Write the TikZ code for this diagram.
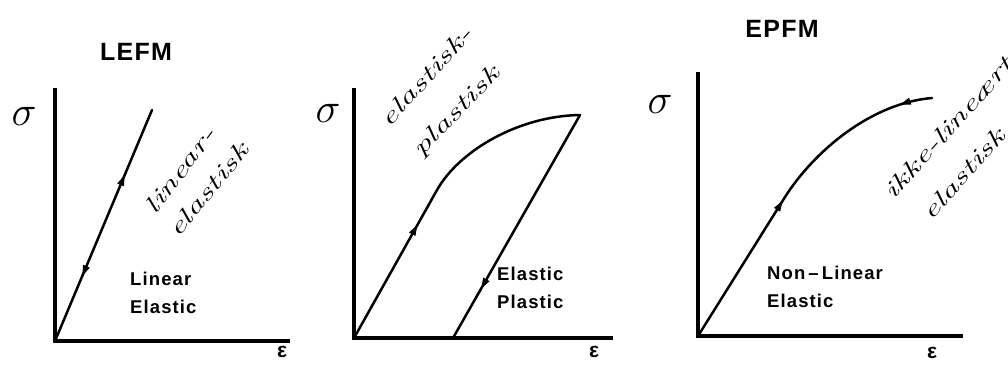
\RequirePackage{fix-cm}
\documentclass[tikz,border=0pt]{standalone}
\usepackage{fontspec}
\newfontfamily\labfont{Liberation Sans}[LetterSpace=6]
\newfontfamily\titfont{Liberation Sans}[LetterSpace=5]
\newfontfamily\epsfont{Liberation Sans}
\usetikzlibrary{arrows.meta,decorations.markings}
\tikzset{
  axisline/.style={line width=4pt, line join=miter, line cap=butt},
  curveline/.style={line width=2.5pt, line cap=round, line join=round},
  fwd/.style={postaction={decorate,decoration={markings,mark=at position #1 with {\arrow{Triangle[length=11pt,width=6.5pt]}}}}},
  bwd/.style={postaction={decorate,decoration={markings,mark=at position #1 with {\arrowreversed{Triangle[length=11pt,width=6.5pt]}}}}},
  title/.style={font=\titfont\bfseries\fontsize{25}{25}\selectfont, inner sep=0pt, anchor=base},
  regime/.style={font=\labfont\bfseries\fontsize{18.5}{28}\selectfont, inner sep=0pt, align=left, anchor=north west},
  sig/.style={font=\fontsize{42}{42}\selectfont, inner sep=0pt},
  eps/.style={font=\epsfont\bfseries\fontsize{21}{21}\selectfont, inner sep=0pt},
  hand/.style={font=\itshape\fontsize{23}{23}\selectfont, inner sep=0pt, xscale=1.6},
}
\begin{document}
\begin{tikzpicture}[x=1pt,y=-1pt]
\useasboundingbox (0,0) rectangle (1008,367);
% ---------- panel 1: LEFM ----------
\coordinate (Y1) at (55,88);
\coordinate (O1) at (55,341);
\coordinate (X1) at (290,341);
\coordinate (T1) at (152,110);
\draw[axisline] (Y1) -- (O1) -- (X1);
\draw[curveline, fwd=0.72, bwd=0.28] (O1) -- (T1);
\node[title] (lefm) at (136,60) {LEFM};
\node[sig] (s1) at (24,116) {$\sigma$};
\node[eps] (e1) at (282,352) {ε};
\node[regime] (r1) at (130,272) {Linear\\Elastic};
\node[rotate=53, hand] (h1a) at (180,170) {linear-};
\node[rotate=51, hand] (h1b) at (208,190) {elastisk};
% ---------- panel 2 ----------
\coordinate (Y2) at (354,88);
\coordinate (O2) at (354,338);
\coordinate (X2) at (613,338);
\coordinate (K2) at (437,190);
\coordinate (C2a) at (459,151);
\coordinate (C2b) at (518,116);
\coordinate (P2) at (580,115);
\coordinate (U2) at (453,338);
\draw[axisline] (Y2) -- (O2) -- (X2);
\draw[curveline, fwd=130pt] (O2) -- (K2) .. controls (C2a) and (C2b) .. (P2);
\draw[curveline, fwd=0.78] (P2) -- (U2);
\node[sig] (s2) at (328,113) {$\sigma$};
\node[eps] (e2) at (594,352) {ε};
\node[regime] (r2) at (497,267) {Elastic\\Plastic};
\node[rotate=48, hand] (h2a) at (426,76) {elastisk-};
\node[rotate=46, hand] (h2b) at (457,112) {plastisk};
% ---------- panel 3: EPFM ----------
\coordinate (Y3) at (698,72);
\coordinate (O3) at (698,336);
\coordinate (X3) at (963,336);
\coordinate (K3) at (785,197);
\coordinate (C3a) at (815,150);
\coordinate (C3b) at (872,103);
\coordinate (P3) at (932,98);
\draw[axisline] (Y3) -- (O3) -- (X3);
\draw[curveline, fwd=160pt, bwd=-33pt] (O3) -- (K3) .. controls (C3a) and (C3b) .. (P3);
\node[title] (epfm) at (782,37) {EPFM};
\node[sig] (s3) at (660,104) {$\sigma$};
\node[eps] (e3) at (932,353) {ε};
\node[regime] (r3) at (767,266) {Non\,–\,Linear\\Elastic};
\node[rotate=48, hand] (h3a) at (948,128) {ikke-lineært};
\node[rotate=48, hand] (h3b) at (963,174) {elastisk};
\end{tikzpicture}
\end{document}
